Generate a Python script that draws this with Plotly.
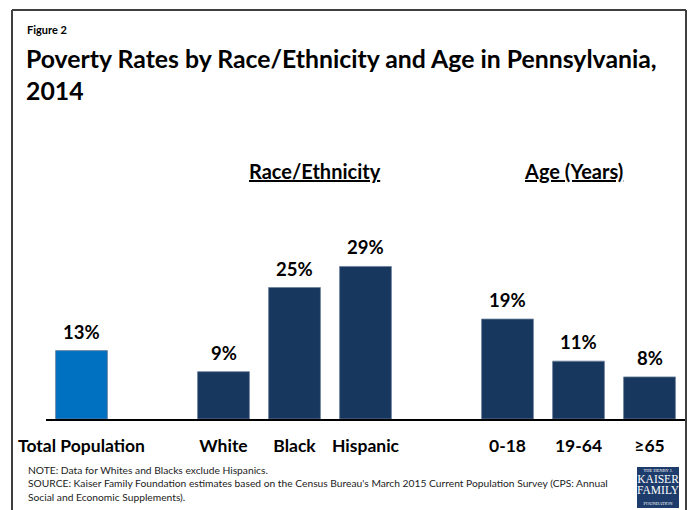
import plotly.graph_objects as go

categories = ["Total Population", "White", "Black", "Hispanic", "0-18", "19-64", "≥65"]
values = [13, 9, 25, 29, 19, 11, 8]
slots = [0, 2, 3, 4, 6, 7, 8]
colors = ["#0070C0", "#17375E", "#17375E", "#17375E", "#17375E", "#17375E", "#17375E"]

W, H = 690, 510
L, R, T, B = 46, 685, 150, 419
FONT = "Lato, Carlito, 'Open Sans', sans-serif"
SERIF = "'Liberation Serif', 'DejaVu Serif', serif"


def px(x):
    return (x - L) / (R - L)


def py(y):
    return (B - y) / (B - T)


fig = go.Figure()
fig.add_trace(go.Bar(
    x=slots, y=values, width=0.73,
    marker=dict(color=colors, line=dict(color="#6c819c", width=0.8)),
    hoverinfo="skip",
))

annotations = []
for s, v in zip(slots, values):
    annotations.append(dict(
        x=s, y=v, xref="x", yref="y", text=f"<b>{v}%</b>", showarrow=False,
        yanchor="bottom", yshift=6, font=dict(family=FONT, size=18.5, color="#000"),
    ))

# headers
annotations.append(dict(x=px(315), y=py(171), xref="paper", yref="paper",
                        text="<b>Race/Ethnicity</b>", showarrow=False,
                        xanchor="center", yanchor="middle",
                        font=dict(family=FONT, size=20, color="#000", lineposition="under")))
annotations.append(dict(x=px(573), y=py(171), xref="paper", yref="paper",
                        text="<b>Age (Years)</b>", showarrow=False,
                        xanchor="center", yanchor="middle",
                        font=dict(family=FONT, size=20, color="#000", lineposition="under")))

# figure label and title
annotations.append(dict(x=px(25), y=py(29), xref="paper", yref="paper",
                        text="<b>Figure 2</b>", showarrow=False,
                        xanchor="left", yanchor="middle",
                        font=dict(family=FONT, size=11, color="#000")))
annotations.append(dict(x=px(24), y=py(42), xref="paper", yref="paper",
                        text="<b>Poverty Rates by Race/Ethnicity and Age in Pennsylvania,<br>2014</b>",
                        showarrow=False, xanchor="left", yanchor="top", align="left",
                        font=dict(family=FONT, size=24.8, color="#000")))

# footnotes
annotations.append(dict(x=px(26), y=py(462), xref="paper", yref="paper",
                        text="NOTE: Data for Whites and Blacks exclude Hispanics.<br>"
                             "SOURCE: Kaiser Family Foundation estimates based on the Census Bureau's March 2015 Current Population Survey (CPS: Annual<br>"
                             "Social and Economic Supplements).",
                        showarrow=False, xanchor="left", yanchor="top", align="left",
                        font=dict(family=FONT, size=10.25, color="#222")))

# logo text (single block)
annotations.append(dict(x=px(658), y=py(487.5), xref="paper", yref="paper",
                        text="<span style='font-size:4.5px'>THE HENRY J.</span><br>"
                             "<span style='font-size:11.5px'>KAISER</span><br>"
                             "<span style='font-size:11.5px'>FAMILY</span><br>"
                             "<span style='font-size:4.5px'>FOUNDATION</span>",
                        showarrow=False, xanchor="center", yanchor="middle", align="center",
                        font=dict(family=SERIF, size=8.5, color="#fff")))

shapes = [
    # frame
    dict(type="line", xref="paper", yref="paper", x0=px(12), x1=px(12), y0=py(10), y1=py(520),
         line=dict(color="#3f3f3f", width=2)),
    dict(type="line", xref="paper", yref="paper", x0=px(12), x1=px(686), y0=py(10), y1=py(10),
         line=dict(color="#3f3f3f", width=2)),
    dict(type="line", xref="paper", yref="paper", x0=px(686), x1=px(686), y0=py(10), y1=py(520),
         line=dict(color="#3f3f3f", width=2)),
    # logo box
    dict(type="rect", xref="paper", yref="paper", x0=px(637), x1=px(679), y0=py(467), y1=py(508),
         fillcolor="#1d3c6c", line=dict(width=0)),
]

fig.update_layout(
    width=W, height=H,
    margin=dict(l=L, r=W - R, t=T, b=H - B),
    paper_bgcolor="#fff", plot_bgcolor="#fff",
    showlegend=False,
    annotations=annotations,
    shapes=shapes,
    xaxis=dict(range=[-0.5, 8.5], tickvals=slots,
               ticktext=[f"<b>{c}</b>" for c in categories],
               tickfont=dict(family=FONT, size=17.5, color="#000"),
               showline=True, linecolor="#000", linewidth=1.5,
               showgrid=False, zeroline=False, ticks="", ticklabelstandoff=10,
               fixedrange=True),
    yaxis=dict(range=[0, (B - T) / 5.26], visible=False, showgrid=False, zeroline=False,
               fixedrange=True),
)

fig.write_html("out.html", config={"displayModeBar": False},
               post_script="document.body.style.margin='0px';document.body.style.overflow='hidden';")
